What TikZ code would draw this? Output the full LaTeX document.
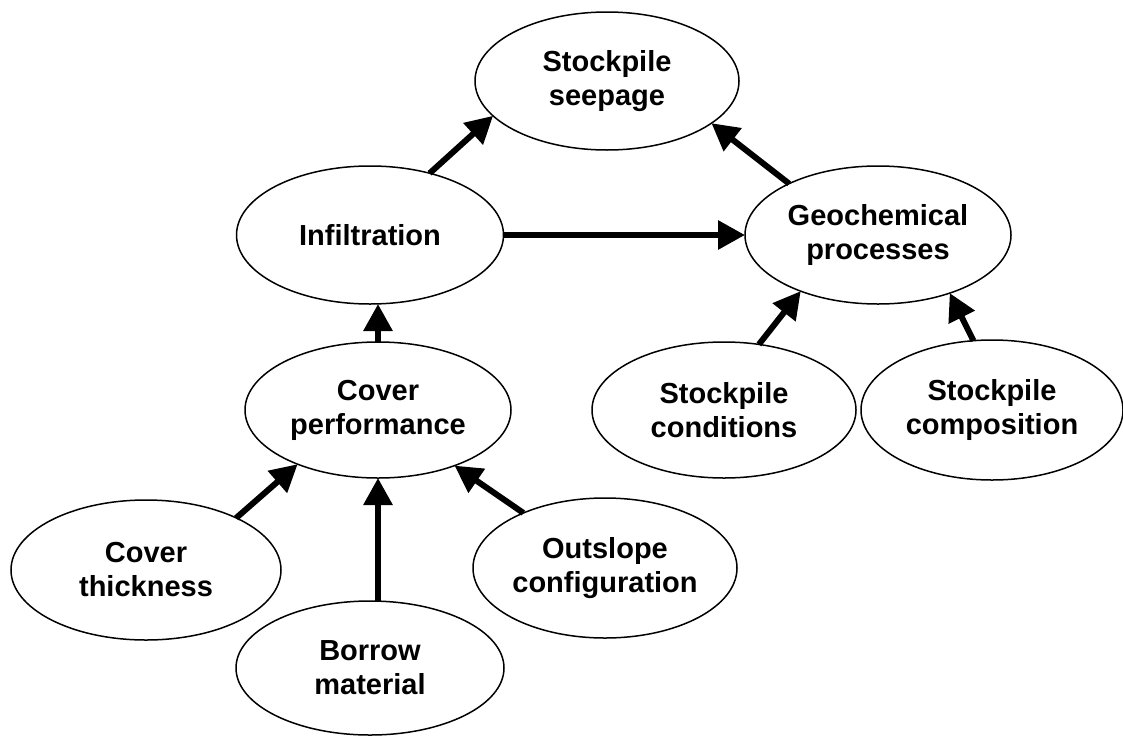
\documentclass[tikz,border=0pt]{standalone}
\usepackage{fontspec}
\setmainfont{Liberation Sans}
\usetikzlibrary{shapes.geometric,arrows.meta}

\begin{document}
\begin{tikzpicture}[x=1pt,y=-1pt,
  factor/.style={ellipse, draw=black, line width=1.5pt, inner sep=0pt, outer sep=0pt,
    align=center, font=\fontsize{29}{34}\selectfont\bfseries,
    minimum width=266pt, minimum height=138pt},
  link/.style={line width=6pt, -{Triangle[length=27pt,width=28pt]}}
]
\useasboundingbox (0,0) rectangle (1123,736);

% factors
\node[factor, minimum width=264pt] (seep)   at (607,81)  {Stockpile\\seepage};
\node[factor, minimum width=267pt] (infil)  at (370,235) {Infiltration};
\node[factor] (geo)    at (878,235) {Geochemical\\processes};
\node[factor, minimum height=136pt] (cover)  at (378,410) {Cover\\performance};
\node[factor, minimum width=264pt, minimum height=136pt] (cond)   at (724,410) {Stockpile\\conditions};
\node[factor, minimum width=262pt, minimum height=140pt] (comp)   at (992,410) {Stockpile\\composition};
\node[factor, minimum width=270pt, minimum height=140pt] (thick)  at (146,570) {Cover\\thickness};
\node[factor, minimum width=268pt, minimum height=134pt] (borrow) at (370,668) {Borrow\\material};
\node[factor, minimum width=264pt, minimum height=140pt] (outs)   at (605,568) {Outslope\\configuration};

% influences
\draw[link] (infil.46)   -- (seep.197.7);
\draw[link] (geo.150.5)  -- (seep.338.7);
\draw[link] (infil.east) -- (geo.west);
\draw[link] (cover.north) -- (infil.south -| cover.north);
\draw[link] (cond.62.6)  -- (geo.216);
\draw[link] (comp.105)   -- (geo.321.3);
\draw[link] (thick.30.6) -- (cover.214.7);
\draw[link] (borrow.north -| cover.south) -- (cover.south);
\draw[link] (outs.146.2) -- (cover.324.3);
\end{tikzpicture}
\end{document}
